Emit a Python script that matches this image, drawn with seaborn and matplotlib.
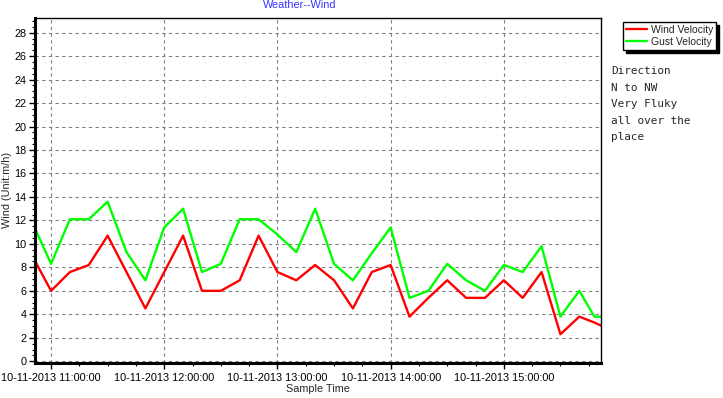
"""
Weather -- wind velocity and gust velocity over one afternoon
"""

# import section
import pandas as pd
import seaborn as sns
import matplotlib.pyplot as plt
import matplotlib.dates as mdates
from matplotlib.lines import Line2D
from matplotlib.ticker import MultipleLocator

# data
DAY = '2013-11-10'
TIMES = ['10:51', '11:00', '11:10', '11:20', '11:30', '11:40', '11:50',
         '12:00', '12:10', '12:20', '12:30', '12:40', '12:50',
         '13:00', '13:10', '13:20', '13:30', '13:40', '13:50',
         '14:00', '14:10', '14:20', '14:30', '14:40', '14:50',
         '15:00', '15:10', '15:20', '15:30', '15:40', '15:48', '15:52']
WIND = [8.7, 6.0, 7.6, 8.2, 10.7, 7.6, 4.5,
        7.6, 10.7, 6.0, 6.0, 6.9, 10.7,
        7.6, 6.9, 8.2, 6.9, 4.5, 7.6,
        8.2, 3.8, 5.4, 6.9, 5.4, 5.4,
        6.9, 5.4, 7.6, 2.3, 3.8, 3.3, 3.0]
GUST = [11.5, 8.3, 12.1, 12.1, 13.6, 9.3, 6.9,
        11.4, 13.0, 7.6, 8.3, 12.1, 12.1,
        10.8, 9.3, 13.0, 8.3, 6.9, 9.2,
        11.4, 5.4, 6.0, 8.3, 6.9, 6.0,
        8.2, 7.6, 9.8, 3.8, 6.0, 3.8, 3.8]
SERIES = ['Wind Velocity', 'Gust Velocity']
COLOURS = {'Wind Velocity': '#ff0000', 'Gust Velocity': '#00ff00'}
NOTE = 'Direction\nN to NW\nVery Fluky\nall over the\nplace'

stamps = pd.to_datetime([DAY + ' ' + t for t in TIMES])
DATA = pd.concat([
    pd.DataFrame({'time': stamps, 'value': WIND, 'series': SERIES[0]}),
    pd.DataFrame({'time': stamps, 'value': GUST, 'series': SERIES[1]}),
])

# set plot dimensions
X_PIXELS, Y_PIXELS, DPI = 723, 398, 100
sns.set_style('white')
plt.rcParams['font.family'] = ['Liberation Sans', 'DejaVu Sans']

fig = plt.figure(figsize=(X_PIXELS / DPI, Y_PIXELS / DPI), dpi=DPI)
ax = fig.add_axes([35 / X_PIXELS, 1 - 363 / Y_PIXELS,
                   566 / X_PIXELS, 345 / Y_PIXELS])

sns.lineplot(data=DATA, x='time', y='value', hue='series',
             palette=COLOURS, linewidth=1.7, legend=False, ax=ax)

# axes, ticks and grid
ax.set_xlim(pd.Timestamp(DAY + ' 10:51:30'), pd.Timestamp(DAY + ' 15:51:30'))
ax.set_ylim(-0.15, 29.25)
ax.yaxis.set_major_locator(MultipleLocator(2))
ax.yaxis.set_minor_locator(MultipleLocator(0.5))
ax.xaxis.set_major_locator(mdates.HourLocator())
ax.xaxis.set_minor_locator(mdates.MinuteLocator(byminute=[0, 15, 30, 45]))
ax.xaxis.set_major_formatter(mdates.DateFormatter('%d-%m-%Y %H:%M:%S'))
ax.tick_params(which='both', direction='out', bottom=True, left=True,
               colors='black', labelsize=7.8)
ax.tick_params(which='major', length=4, width=1)
ax.tick_params(which='minor', length=2.5, width=0.8)
ax.tick_params(axis='y', pad=2)
ax.tick_params(axis='x', pad=3)
ax.grid(True, which='major', color='#808080', linestyle=(0, (3, 3)), linewidth=0.8)
ax.set_axisbelow(True)

for side in ['left', 'bottom']:
    ax.spines[side].set_linewidth(2.2)
    ax.spines[side].set_color('black')
for side in ['top', 'right']:
    ax.spines[side].set_linewidth(1.0)
    ax.spines[side].set_color('black')

ax.set_xlabel('Sample Time', fontsize=7.8, labelpad=1)
ax.set_ylabel('Wind (Unit:m/h)', fontsize=7.8, labelpad=2)

# title, legend and note
fig.text(300 / X_PIXELS, 1.0, 'Weather--Wind', color='#3333ff',
         fontsize=7.8, ha='center', va='top')

handles = [Line2D([], [], color=COLOURS[s], linewidth=1.7) for s in SERIES]
leg = fig.legend(handles, SERIES, loc='upper left',
                 bbox_to_anchor=(623 / X_PIXELS, 1 - 22 / Y_PIXELS),
                 frameon=True, fancybox=False,
                 shadow={'color': 'black', 'alpha': 1.0, 'ox': 2, 'oy': -2},
                 edgecolor='black', fontsize=7.5, handlelength=2.0,
                 handletextpad=0.35, borderpad=0.3, labelspacing=0.15,
                 borderaxespad=0)
leg.get_frame().set_linewidth(1.0)

fig.text(611 / X_PIXELS, 1 - 66 / Y_PIXELS, NOTE, family='DejaVu Sans Mono',
         fontsize=7.9, ha='left', va='top', linespacing=1.82)

fig.savefig('out.png', dpi=DPI)
